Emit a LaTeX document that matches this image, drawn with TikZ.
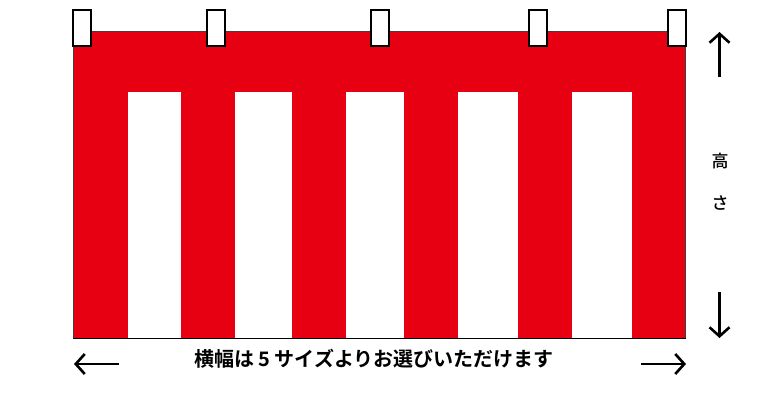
\documentclass[tikz,border=0pt]{standalone}
\usepackage{fontspec}
\newfontfamily\jpb{Noto Sans CJK JP Bold}
\newfontfamily\jpm{Noto Sans CJK JP Medium}
\usetikzlibrary{arrows.meta}
\definecolor{bannerred}{RGB}{230,0,18}
\tikzset{
  tab/.style={draw=black,line width=1.2pt,fill=white},
  stripe/.style={fill=white},
  dimarrow/.style={line width=2.6pt,-{Straight Barb[length=9pt,width=20pt,line width=2.6pt]}},
}
\begin{document}
\begin{tikzpicture}[x=1pt,y=-1pt]
\useasboundingbox (0,0) rectangle (770,400);
\fill[white] (0,0) rectangle (770,400);
% banner
\filldraw[fill=bannerred,draw=black!75,line width=0.8pt] (73,31) rectangle (685.5,338);
\foreach \a/\b in {128/181,235/292,346/404,458/518,572/632}
  \fill[stripe] (\a,92) rectangle (\b,337.6);
\draw[black,line width=1pt] (73,338) -- (685.5,338);
% tabs
\foreach \x in {73,207,371,529,668}
  \draw[tab] (\x,10) rectangle ++(18,36);
% height arrows and label
\coordinate (ut) at (719.5,32);
\coordinate (ub) at (719.5,77);
\coordinate (dt) at (719.5,292);
\coordinate (db) at (719.5,338);
\draw[dimarrow] (ub) -- (ut);
\draw[dimarrow] (dt) -- (db);
\node[font=\jpm\fontsize{17}{17}\selectfont] (h1) at (720,161) {高};
\node[font=\jpm\fontsize{17}{17}\selectfont] (h2) at (720,203) {さ};
% width arrows and label
\coordinate (ll) at (74,364);
\coordinate (lr) at (119,364);
\coordinate (rl) at (641,364);
\coordinate (rr) at (686,364);
\draw[dimarrow] (lr) -- (ll);
\draw[dimarrow] (rl) -- (rr);
\node[font=\jpb\fontsize{20}{20}\selectfont] (w) at (374,359) {横幅は 5 サイズよりお選びいただけます};
\end{tikzpicture}
\end{document}
